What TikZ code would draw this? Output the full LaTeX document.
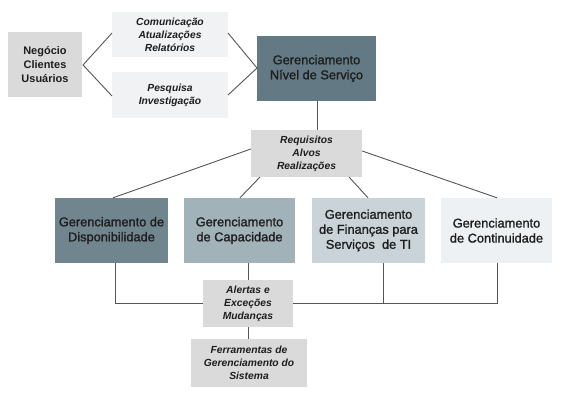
\documentclass[tikz,border=0pt]{standalone}
\usepackage{fontspec}
\setmainfont{Liberation Sans}
\newfontfamily\medfont[FakeBold=1.3]{Liberation Sans}
\definecolor{gns}{HTML}{637A84}
\definecolor{bone}{HTML}{71858E}
\definecolor{btwo}{HTML}{A2B2B9}
\definecolor{bthree}{HTML}{C9D3D8}
\definecolor{bfour}{HTML}{EEF1F3}
\definecolor{lgray}{HTML}{DADADA}
\definecolor{pale}{HTML}{F0F2F4}
\definecolor{txt}{HTML}{1E1E1E}
\definecolor{ln}{HTML}{555555}
\begin{document}
\begin{tikzpicture}[x=1pt,y=-1pt,
  boxa/.style={inner sep=0pt,align=center,text=txt},
  bigtext/.style={font=\medfont\fontsize{12.8}{15}\selectfont},
  ittext/.style={font=\fontsize{10.3}{13}\selectfont\bfseries\itshape},
  conn/.style={draw=ln,line width=0.9pt}]
\useasboundingbox (0,0) rectangle (585,400);
% boxes
\node[boxa,fill=lgray,minimum width=74pt,minimum height=65pt,font=\fontsize{11}{13.8}\selectfont\bfseries] (neg) at (45,64.5) {Negócio\\Clientes\\Usuários};
\node[boxa,fill=pale,minimum width=116pt,minimum height=45pt,ittext] (com) at (170,34.5) {Comunicação\\Atualizações\\Relatórios};
\node[boxa,fill=pale,minimum width=116pt,minimum height=46pt,ittext] (pes) at (170,95) {Pesquisa\\Investigação};
\node[boxa,fill=gns,minimum width=119pt,minimum height=65pt,bigtext] (gns) at (316.5,68.5) {Gerenciamento\\Nível de Serviço};
\node[boxa,fill=lgray,minimum width=111pt,minimum height=47pt,ittext] (req) at (306.5,153.5) {Requisitos\\Alvos\\Realizações};
\node[boxa,fill=bone,minimum width=113pt,minimum height=65pt,bigtext] (b1) at (111.5,230.5) {Gerenciamento de\\Disponibilidade};
\node[boxa,fill=btwo,minimum width=111pt,minimum height=65pt,bigtext] (b2) at (239.5,230.5) {Gerenciamento\\de Capacidade};
\node[boxa,fill=bthree,minimum width=113pt,minimum height=65pt,bigtext] (b3) at (368.5,230.5) {Gerenciamento\\de Finanças para\\Serviços\ \ de TI};
\node[boxa,fill=bfour,minimum width=111pt,minimum height=65pt,bigtext] (b4) at (496.5,230.5) {Gerenciamento\\de Continuidade};
\node[boxa,fill=lgray,minimum width=90pt,minimum height=47pt,ittext] (ale) at (248,303.5) {Alertas e\\Exceções\\Mudanças};
\node[boxa,fill=lgray,minimum width=116pt,minimum height=48pt,ittext] (fer) at (249,363) {Ferramentas de\\Gerenciamento do\\Sistema};
% coordinates for connectors
\coordinate (v1) at (83,65);
\coordinate (v2) at (257,68);
\coordinate (c1) at (112,33);
\coordinate (c2) at (112,96);
\coordinate (c3) at (228,33);
\coordinate (c4) at (228,95);
\coordinate (h1) at (115,303);
\coordinate (h3) at (383,303);
\coordinate (h4) at (497,303);
% connectors
\draw[conn] (c1) -- (v1) -- (c2);
\draw[conn] (c3) -- (v2) -- (c4);
\draw[conn] (gns.south -| 317,0) -- (req.north -| 317,0);
\draw[conn] (req.west |- 0,149) -- (b1.north -| 113,0);
\draw[conn] (260,177) -- (b2.north -| 240,0);
\draw[conn] (349,177) -- (b3.north -| 368,0);
\draw[conn] (req.east |- 0,151) -- (b4.north -| 497,0);
\draw[conn] (b1.south -| h1) -- (h1) -- (ale.west |- h1);
\draw[conn] (ale.east |- h4) -- (h4) -- (b4.south -| h4);
\draw[conn] (b3.south -| h3) -- (h3);
\draw[conn] (b2.south -| 248,0) -- (ale.north);
\draw[conn] (ale.south) -- (fer.north -| ale.south);
\end{tikzpicture}
\end{document}
